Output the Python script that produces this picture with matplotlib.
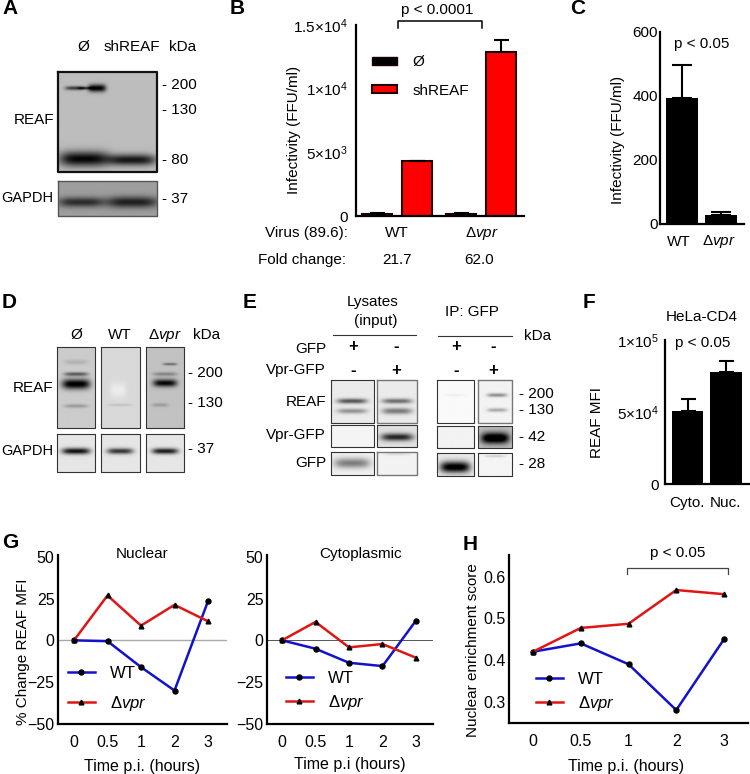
import numpy as np
import matplotlib
matplotlib.use('Agg')
import matplotlib.pyplot as plt
from matplotlib.patches import Patch

plt.rcParams['font.family'] = ['Liberation Sans', 'DejaVu Sans']
plt.rcParams['font.size'] = 11
plt.rcParams['mathtext.fontset'] = 'custom'
plt.rcParams['mathtext.rm'] = 'Liberation Sans'
plt.rcParams['mathtext.it'] = 'Liberation Sans:italic'
plt.rcParams['mathtext.default'] = 'regular'

W, H = 750, 774
FS = 11
DVPR = r'$\Delta\mathit{vpr}$'
BLUE, RED = '#1212cc', '#e01515'

# panel B
b_values = [130, 4320, 130, 12880]
b_errors = [70, 0, 70, 940]
b_yticks = [0, 5000, 10000, 15000]
b_yticklabels = ['0', r'$5{\times}10^3$', r'$1{\times}10^4$', r'$1.5{\times}10^4$']
# panel C
c_values = [394, 28]
c_errors = [103, 9]
c_yticks = [0, 200, 400, 600]
# panel F
f_values = [50700, 77800]
f_errors = [8300, 7600]
f_yticks = [0, 50000, 100000]
f_yticklabels = ['0', r'$5{\times}10^4$', r'$1{\times}10^5$']
# panels G, H
times = ['0', '0.5', '1', '2', '3']
nuc_wt = [0, -0.5, -16, -30, 23.4]
nuc_dvpr = [0, 26.8, 8.8, 21.2, 11.4]
cyt_wt = [0, -5, -13.4, -15.4, 11.8]
cyt_dvpr = [0, 11, -4.2, -2.2, -10.4]
pct_yticks = [-50, -25, 0, 25, 50]
enr_wt = [0.42, 0.44, 0.39, 0.28, 0.45]
enr_dvpr = [0.42, 0.477, 0.487, 0.568, 0.558]
enr_yticks = [0.3, 0.4, 0.5, 0.6]

fig = plt.figure(figsize=(W / 100, H / 100), dpi=100)

# full figure axes in pixel coordinates, for text and blots
ov = fig.add_axes([0, 0, 1, 1], zorder=0)
ov.set_xlim(0, W)
ov.set_ylim(H, 0)
ov.axis('off')


def px_axes(x0, ytop, x1, ybot):
    ax = fig.add_axes([x0 / W, 1 - ybot / H, (x1 - x0) / W, (ybot - ytop) / H], zorder=2)
    ax.patch.set_alpha(0)
    ax.spines['top'].set_visible(False)
    ax.spines['right'].set_visible(False)
    ax.spines['left'].set_linewidth(1.6)
    ax.spines['bottom'].set_linewidth(1.6)
    ax.tick_params(length=0)
    return ax


def txt(x, y, s, ha='center', fontsize=FS, **kw):
    ov.text(x, y, s, ha=ha, va='center', fontsize=fontsize, **kw)


def blot(x0, y0, x1, y1, bg, bands, edge='#333333', lw=0.8):
    xs = np.arange(x0, x1, 0.34)
    ys = np.arange(y0, y1, 0.34)
    xx, yy = np.meshgrid(xs, ys)
    img = np.full(xx.shape, float(bg))
    for xc, yc, hw, hh, dark in bands:
        img = img - dark * np.exp(-((xx - xc) / hw) ** 4) * np.exp(-((yy - yc) / (hh * 1.25)) ** 2)
    ov.imshow(np.clip(img, 0, 1), cmap='gray', vmin=0, vmax=1, aspect='auto',
              extent=(x0, x1, y1, y0), interpolation='bilinear')
    ov.plot([x0, x1, x1, x0, x0], [y0, y0, y1, y1, y0], color=edge, lw=lw)
    ov.set_xlim(0, W)
    ov.set_ylim(H, 0)


def legend(ax, handles, x, y, spacing):
    ax.legend(handles=handles, loc='center left', bbox_to_anchor=(x, y),
              bbox_transform=ov.transData, frameon=False, borderpad=0, borderaxespad=0,
              handlelength=1.6, handletextpad=0.9, labelspacing=spacing, fontsize=12)


def line_panel(ax, wt, dvpr):
    ax.plot(range(5), wt, color=BLUE, lw=1.8, marker='o', ms=3.6, mfc='k', mec='k', label='WT')
    ax.plot(range(5), dvpr, color=RED, lw=1.8, marker='^', ms=3.4, mfc='k', mec='k', label=DVPR)
    ax.set_xticks(range(5))
    ax.set_xticklabels(times)
    ax.tick_params(axis='x', pad=8, labelsize=11.5)
    ax.tick_params(axis='y', pad=2.5, labelsize=11.5)
    return ax.get_legend_handles_labels()[0]


# panel letters
for s, x, y in [('A', 2, 9), ('B', 230, 9), ('C', 570, 9), ('D', 2, 302), ('E', 243, 302),
                ('F', 583, 303), ('G', 2, 543), ('H', 463, 544)]:
    txt(x, y, s, ha='left', fontweight='bold', fontsize=15)

# A blots
blot(58, 72, 157, 172, .74, [(75, 88, 10, 1.6, .5), (86, 88, 8, 1, .4), (97, 88, 9, 3, .75),
                             (84, 159, 25, 6, .72), (132, 160, 24, 4.5, .66)], edge='#111111', lw=1.6)
blot(58, 181, 157, 216, .62, [(81, 202, 23, 4, .45), (132, 202, 26, 4.5, .5)], edge='#555555', lw=1)
txt(83, 47, 'Ø')
txt(132, 47, 'shREAF')
txt(183, 47, 'kDa')
txt(54, 120, 'REAF', ha='right')
txt(53, 198, 'GAPDH', ha='right', fontsize=10.5)
for s, y in [('- 200', 85), ('- 130', 110), ('- 80', 160), ('- 37', 199)]:
    txt(162, y, s, ha='left')

# B
ax = px_axes(356, 25, 524, 216)
b_pos = [0, 1, 2.1, 3.1]
ax.bar(b_pos, b_values, width=0.75, color=['k', '#ff0000', 'k', '#ff0000'], edgecolor='#200000', lw=1.5)
ax.errorbar(b_pos, b_values, yerr=[[0] * 4, b_errors], fmt='none', ecolor='k', elinewidth=1.5,
            capsize=5.4, capthick=1.5)
ax.set_xlim(-0.525, 3.675)
ax.set_ylim(0, 15000)
ax.set_xticks([])
ax.set_yticks(b_yticks)
ax.set_yticklabels(b_yticklabels, fontsize=FS)
ax.tick_params(axis='y', pad=5.8)
ax.set_ylabel('Infectivity (FFU/ml)', fontsize=FS)
ax.yaxis.set_label_coords(301, 130, transform=ov.transData)
ax.legend(handles=[Patch(fc='k', ec='#200000', label='Ø'), Patch(fc='#ff0000', ec='#200000', lw=1.5, label='shREAF')],
          loc='center left', bbox_to_anchor=(372, 76.5), bbox_transform=ov.transData, frameon=False, borderpad=0,
          borderaxespad=0, handlelength=1.64, handleheight=0.45, handletextpad=1.0, labelspacing=0.95, fontsize=FS)
ov.plot([398, 398, 482, 482], [28, 21, 21, 28], color='k', lw=1.1)
txt(437, 10, 'p < 0.0001')
txt(348, 233, 'Virus (89.6):', ha='right')
txt(346, 260, 'Fold change:', ha='right')
txt(397, 233, 'WT')
txt(482, 233, DVPR)
txt(397, 260, '21.7')
txt(479, 260, '62.0')

# C
ax = px_axes(660, 32, 744, 224)
ax.bar([0, 1], c_values, width=0.82, color='k')
ax.errorbar([0, 1], c_values, yerr=[[0, 0], c_errors], fmt='none', ecolor='k', elinewidth=1.5, capsize=7, capthick=1.5)
ax.set_xlim(-22 / 39, 62 / 39)
ax.set_ylim(0, 600)
ax.set_xticks([])
ax.set_yticks(c_yticks)
ax.tick_params(axis='y', pad=1.5, labelsize=FS)
ax.set_ylabel('Infectivity (FFU/ml)', fontsize=FS)
ax.yaxis.set_label_coords(625, 140, transform=ov.transData)
txt(702, 44, 'p < 0.05')
txt(679, 242, 'WT')
txt(719, 242, DVPR)

# D blots
blot(57, 347, 95, 428, .8, [(76, 384, 14, 4, .85), (76, 374, 12, 1.5, .45), (76, 362, 12, 2, .1), (76, 406, 12, 1.5, .2)])
blot(101, 347, 140, 428, .85, [(120, 405, 12, 1, .1), (118, 390, 8, 6, -.08)])
blot(146, 347, 184, 428, .76, [(165, 383, 12, 3, .75), (165, 374, 12, 1.5, .25), (170, 364, 7, 1, .35), (160, 405, 8, 1.5, .15)])
blot(57, 434, 95, 472, .9, [(76, 451, 14, 2.5, .85)])
blot(101, 434, 140, 472, .9, [(120, 451, 13, 2.3, .7)])
blot(146, 434, 184, 472, .9, [(165, 451, 13, 2.3, .8)])
txt(76, 335, 'Ø')
txt(120, 335, 'WT')
txt(165, 335, DVPR)
txt(207, 335, 'kDa')
txt(53, 388, 'REAF', ha='right')
txt(53, 451, 'GAPDH', ha='right', fontsize=10.5)
for s, y in [('- 200', 373), ('- 130', 403), ('- 37', 449)]:
    txt(188, y, s, ha='left')

# E blots
blot(331, 380, 374, 423, .92, [(352, 401, 15, 2, .6), (352, 411, 15, 2, .35)])
blot(377, 380, 417, 423, .92, [(397, 401, 15, 2, .5), (397, 411, 15, 2.5, .45)], edge='#777777', lw=1)
blot(331, 425, 374, 447, .96, [])
blot(377, 425, 417, 447, .88, [(397, 437, 16, 3, .75)])
blot(331, 452, 374, 475, .94, [(352, 463, 18, 4, .45)])
blot(377, 452, 417, 475, .95, [(397, 454, 12, 1, .1)], edge='#777777', lw=1)
blot(437, 380, 474, 423, .98, [(455, 395, 10, 1, .05)])
blot(478, 380, 512, 423, .95, [(497, 395, 10, 1.5, .4), (497, 410, 10, 1.5, .3)], edge='#777777', lw=1)
blot(437, 426, 474, 448, .95, [])
blot(478, 426, 512, 448, .75, [(495, 438, 14, 4.5, .95)])
blot(437, 453, 474, 476, .92, [(455, 467, 15, 4.5, 1.0)])
blot(478, 453, 512, 476, .96, [(495, 456, 10, 1, .15)])
txt(373, 302, 'Lysates')
txt(376, 321, '(input)')
ov.plot([333, 416], [335, 335], color='#333333', lw=0.8)
ov.plot([438, 512], [336, 336], color='#333333', lw=0.8)
txt(445, 312, 'IP: GFP', ha='left')
txt(538, 336, 'kDa')
txt(326, 349, 'GFP', ha='right')
txt(326, 370, 'Vpr-GFP', ha='right')
txt(326, 402, 'REAF', ha='right')
txt(326, 435, 'Vpr-GFP', ha='right')
txt(326, 463, 'GFP', ha='right')
for x, s1, s2 in [(353, '+', '-'), (396, '-', '+'), (456, '+', '-'), (493, '-', '+')]:
    txt(x, 347, s1, fontweight='bold', fontsize=12)
    txt(x, 370, s2, fontweight='bold', fontsize=12)
for s, y in [('- 200', 394), ('- 130', 410), ('- 42', 437), ('- 28', 464)]:
    txt(519, y, s, ha='left')

# F
ax = px_axes(665, 340, 750, 484)
ax.bar([0, 1], f_values, width=31.5 / 38.5, color='k')
ax.errorbar([0, 1], f_values, yerr=[[0, 0], f_errors], fmt='none', ecolor='k', elinewidth=1.5, capsize=5.4, capthick=1.5)
ax.set_xlim(-22.5 / 38.5, 62.5 / 38.5)
ax.set_ylim(0, 100000)
ax.set_xticks([])
ax.set_yticks(f_yticks)
ax.set_yticklabels(f_yticklabels, fontsize=FS)
ax.tick_params(axis='y', pad=4.5)
ax.set_ylabel('REAF MFI', fontsize=FS)
ax.yaxis.set_label_coords(604, 422, transform=ov.transData)
txt(702, 317, 'HeLa-CD4')
txt(703, 343, 'p < 0.05')
txt(687, 503, 'Cyto.')
txt(725, 503, 'Nuc.')

# G nuclear
ax = px_axes(58, 555, 227, 724)
ax.axhline(0, color='#aaaaaa', lw=1, zorder=1)
handles = line_panel(ax, nuc_wt, nuc_dvpr)
ax.set_xlim(-16 / 33.5, 153 / 33.5)
ax.set_ylim(-50, 51)
ax.set_yticks(pct_yticks)
ax.set_ylabel('% Change REAF MFI', fontsize=FS)
ax.yaxis.set_label_coords(30, 652, transform=ov.transData)
legend(ax, handles, 68, 689.5, 0.75)
txt(142, 554, 'Nuclear')
txt(142, 766, 'Time p.i. (hours)', fontsize=11.5)

# G cytoplasmic
ax = px_axes(267, 555, 433, 724)
ax.axhline(0, color='#555555', lw=0.7, zorder=1)
handles = line_panel(ax, cyt_wt, cyt_dvpr)
ax.set_xlim(-15 / 33.5, 151 / 33.5)
ax.set_ylim(-50, 51)
ax.set_yticks(pct_yticks)
legend(ax, handles, 286, 691.5, 0.4)
txt(361, 554, 'Cytoplasmic')
txt(350, 765, 'Time p.i (hours)', fontsize=11.5)

# H
ax = px_axes(509, 555, 748, 723)
handles = line_panel(ax, enr_wt, enr_dvpr)
ax.set_xlim(-24 / 47.75, 215 / 47.75)
ax.set_ylim(0.249, 0.652)
ax.set_yticks(enr_yticks)
ax.set_yticklabels(['0.3', '0.4', '0.5', '0.6'])
ax.set_ylabel('Nuclear enrichment score', fontsize=FS)
ax.yaxis.set_label_coords(480, 650, transform=ov.transData)
legend(ax, handles, 536, 692.5, 0.4)
ov.plot([627, 627, 728, 728], [574, 568, 568, 574], color='#444444', lw=0.9)
txt(678, 553, 'p < 0.05')
txt(626, 766, 'Time p.i. (hours)', fontsize=11.5)

fig.savefig('out.png', dpi=100)
